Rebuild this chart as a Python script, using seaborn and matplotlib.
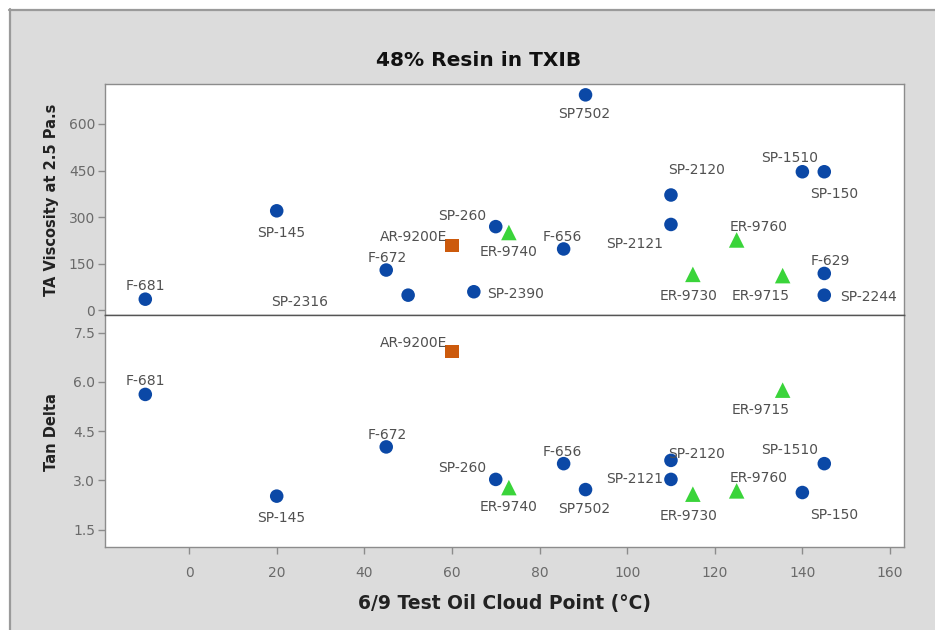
import numpy as np
import pandas as pd
import seaborn as sns
import matplotlib
matplotlib.use('Agg')
import matplotlib.pyplot as plt
from matplotlib.patches import Rectangle
from matplotlib.lines import Line2D

# --- data ---
names = ['F-681', 'SP-145', 'F-672', 'SP-2316', 'SP-2390', 'AR-9200E', 'SP-260',
         'ER-9740', 'F-656', 'SP7502', 'SP-2120', 'SP-2121', 'ER-9730', 'ER-9760',
         'ER-9715', 'SP-150', 'SP-1510', 'F-629', 'SP-2244']
cloud_point = [-10, 20, 45, 50, 65, 60, 70, 73, 85.5, 90.5, 110, 110, 115, 125,
               135.5, 140, 145, 145, 145]
ta_viscosity = [35, 320, 129, 48, 59, 207, 269, 250, 197, 694, 371, 276, 115, 226,
                111, 446, 446, 118, 48]
tan_delta = [5.62, 2.52, 4.02, np.nan, np.nan, 6.92, 3.03, 2.78, 3.51, 2.72, 3.61,
             3.03, 2.58, 2.68, 5.75, 2.63, 3.51, np.nan, np.nan]
resin_kind = ['SP', 'SP', 'SP', 'SP', 'SP', 'AR', 'SP', 'ER', 'SP', 'SP', 'SP', 'SP',
              'ER', 'ER', 'ER', 'SP', 'SP', 'SP', 'SP']

x_ticks = [0, 20, 40, 60, 80, 100, 120, 140, 160]
visc_ticks = [0, 150, 300, 450, 600]
tan_ticks = [1.5, 3.0, 4.5, 6.0, 7.5]

df = pd.DataFrame({'name': names, 'cloud': cloud_point, 'visc': ta_viscosity,
                   'tan': tan_delta, 'kind': resin_kind})

# marker styling per resin kind
kind_style = {
    'SP': dict(marker='o', color='#0b48a6', s=95),
    'ER': dict(marker='^', color='#3ad43a', s=125),
    'AR': dict(marker='s', color='#cc5a0c', s=90),
}

# label offsets in pixels (dx, dy) from the point
label_off = {
    'F-681': (0, 13), 'SP-145': (4, -22), 'F-672': (1, 12), 'SP-2316': (-109, -7),
    'SP-2390': (42, -2), 'AR-9200E': (-38, 9), 'SP-260': (-34, 11), 'ER-9740': (0, -19),
    'F-656': (-1, 12), 'SP7502': (-1, -19), 'SP-2120': (26, 25), 'SP-2121': (-36, -20),
    'ER-9730': (-4, -22), 'ER-9760': (22, 13), 'ER-9715': (-22, -20), 'SP-150': (32, -22),
    'SP-1510': (-35, 14), 'F-629': (6, 12), 'SP-2244': (44, -2),
}
label_off_bottom = dict(label_off, **{'SP-2120': (26, 6), 'SP-2121': (-36, 0)})

sns.set_theme(style='white')
plt.rcParams['font.family'] = ['DejaVu Sans']

W, H = 935, 630
fig = plt.figure(figsize=(W / 100, H / 100), dpi=100)
fig.patch.set_facecolor('white')

# gray chart panel with a darker edge on top / left
fig.patches.append(Rectangle((9 / W, 0), 1, 1 - 9 / H, transform=fig.transFigure,
                             facecolor='#dcdcdc', edgecolor='none', zorder=-5))
fig.lines.append(Line2D([9 / W, 1], [1 - 9.5 / H, 1 - 9.5 / H], transform=fig.transFigure,
                        color='#9a9a9a', lw=1.6, zorder=-4))
fig.lines.append(Line2D([9.5 / W, 9.5 / W], [0, 1 - 9 / H], transform=fig.transFigure,
                        color='#9a9a9a', lw=1.6, zorder=-4))

left, right = 105 / W, 904 / W
ax_top = fig.add_axes([left, 1 - 315 / H, right - left, (315 - 84) / H])
ax_bot = fig.add_axes([left, 1 - 547 / H, right - left, (547 - 315) / H], sharex=ax_top)

tick_color = '#6a6a6a'
label_color = '#505050'


def draw_panel(ax, ycol, offsets):
    sub = df.dropna(subset=[ycol])
    for kind, st in kind_style.items():
        part = sub[sub['kind'] == kind]
        if part.empty:
            continue
        sns.scatterplot(data=part, x='cloud', y=ycol, ax=ax, marker=st['marker'],
                        color=st['color'], s=st['s'], edgecolor='none', legend=False,
                        zorder=3)
    for _, row in sub.iterrows():
        dx, dy = offsets[row['name']]
        ax.annotate(row['name'], (row['cloud'], row[ycol]), xytext=(dx, dy),
                    textcoords='offset pixels', ha='center', va='center',
                    fontsize=10, color=label_color, zorder=4)
    ax.set_facecolor('white')
    for sp in ax.spines.values():
        sp.set_color('#8c8c8c')
        sp.set_linewidth(1.0)
    ax.tick_params(axis='y', which='both', left=True, length=5, width=1,
                   color='#8c8c8c', labelcolor=tick_color, labelsize=10, pad=2)


draw_panel(ax_top, 'visc', label_off)
draw_panel(ax_bot, 'tan', label_off_bottom)

ax_top.set_xlim(-19.2, 163.2)
ax_top.set_ylim(-16, 729)
ax_top.set_yticks(visc_ticks)
ax_top.set_yticklabels([str(v) for v in visc_ticks])
ax_top.tick_params(axis='x', bottom=False, labelbottom=False)
ax_top.set_xlabel('')
ax_top.set_ylabel('')
ax_top.spines['bottom'].set_color('#555555')

ax_bot.set_ylim(0.97, 8.04)
ax_bot.set_yticks(tan_ticks)
ax_bot.set_yticklabels([f'{v:.1f}' for v in tan_ticks])
ax_bot.set_xticks(x_ticks)
ax_bot.set_xticklabels([str(v) for v in x_ticks])
ax_bot.tick_params(axis='x', bottom=True, length=5, width=1, color='#8c8c8c',
                   labelcolor=tick_color, labelsize=10, pad=9)
ax_bot.spines['top'].set_color('#555555')
ax_bot.set_xlabel('')
ax_bot.set_ylabel('')

# titles and axis labels
fig.text(479 / W, 1 - 60 / H, '48% Resin in TXIB', ha='center', va='center',
         fontsize=14.5, fontweight='bold', color='#111111')
fig.text(504 / W, 1 - 603 / H, '6/9 Test Oil Cloud Point (°C)', ha='center', va='center',
         fontsize=13.5, fontweight='bold', color='#222222')
fig.text(52 / W, 1 - 200 / H, 'TA Viscosity at 2.5 Pa.s', ha='center', va='center',
         rotation=90, fontsize=10.5, fontweight='bold', color='#222222')
fig.text(52 / W, 1 - 432 / H, 'Tan Delta', ha='center', va='center',
         rotation=90, fontsize=10.5, fontweight='bold', color='#222222')

fig.savefig('out.png', dpi=100)
